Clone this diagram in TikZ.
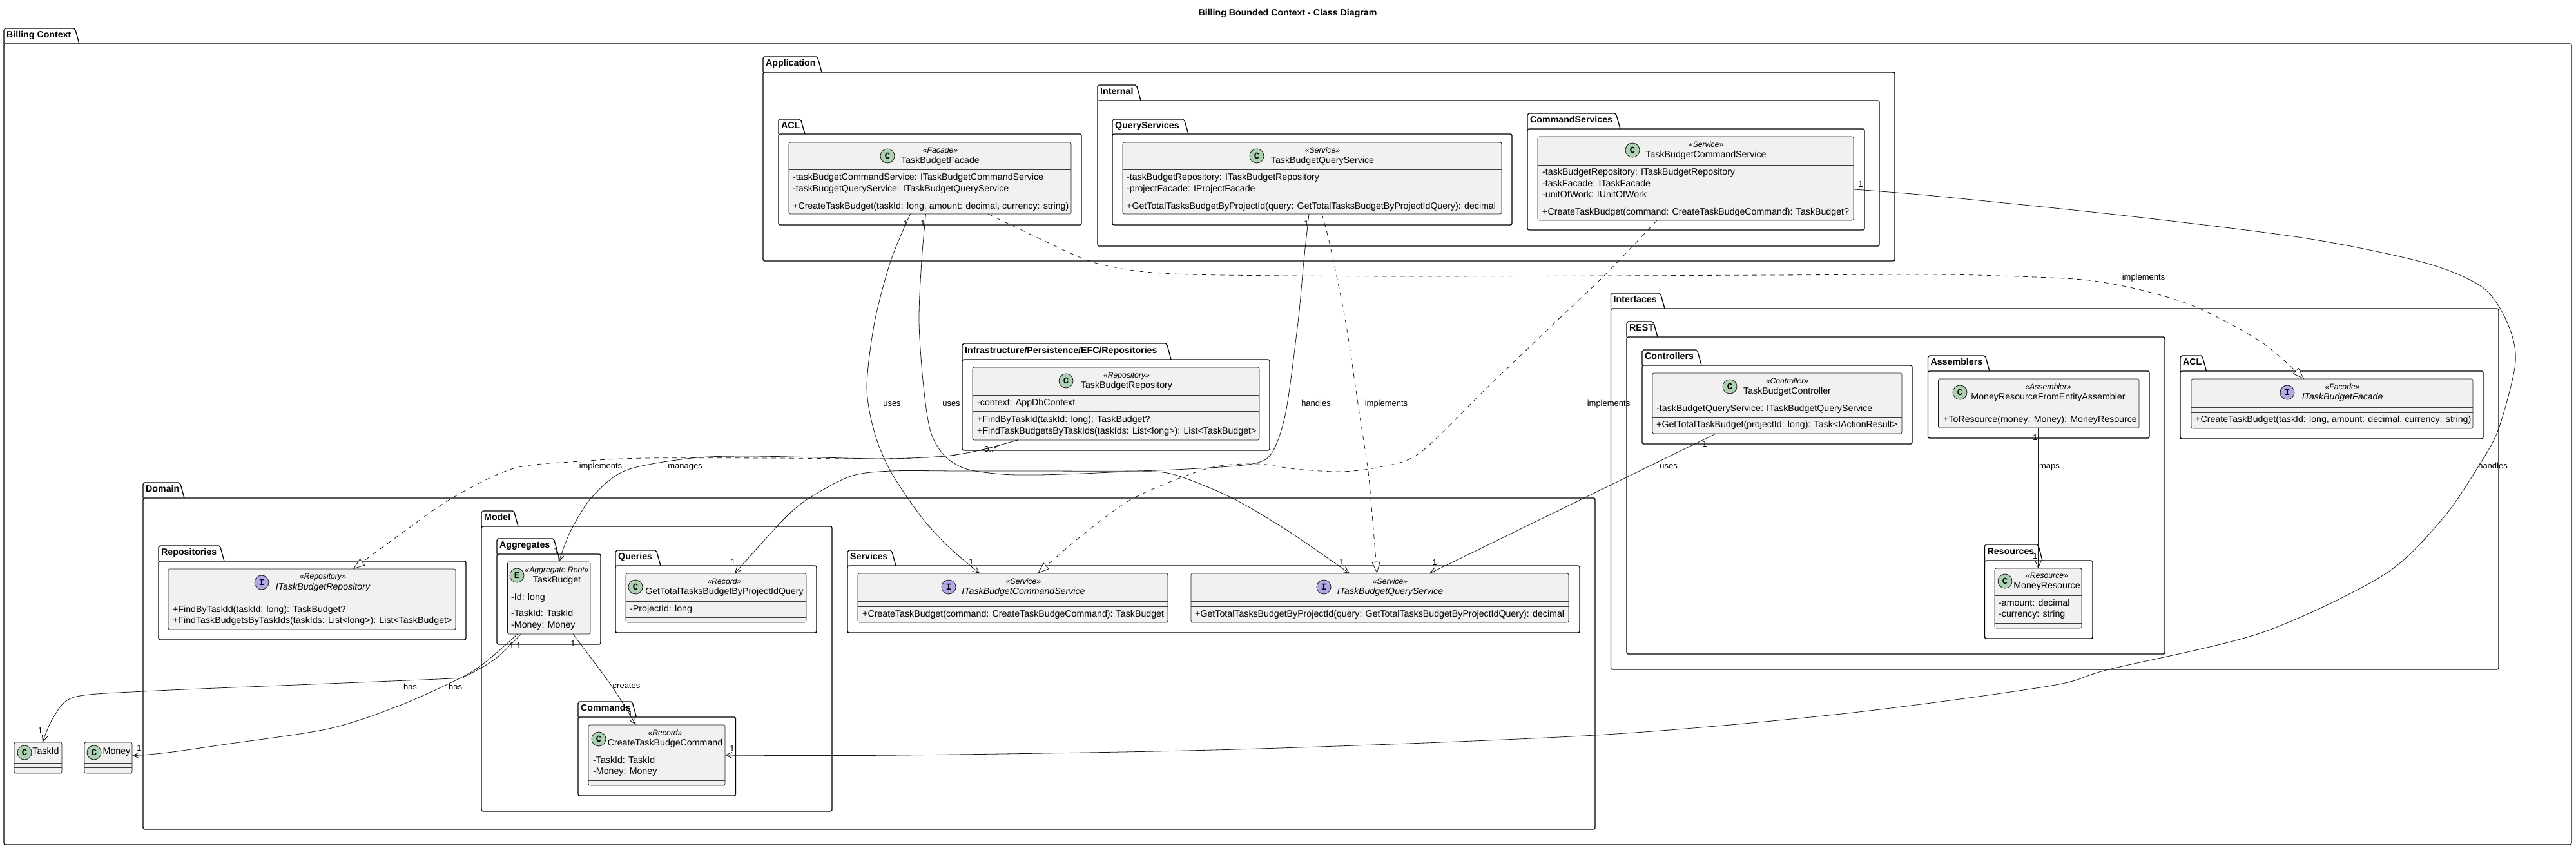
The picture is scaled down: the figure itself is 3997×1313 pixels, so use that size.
\documentclass[tikz,border=0pt]{standalone}
\usepackage{fontspec}
\setmainfont{Liberation Sans}
\setmonofont{Liberation Mono}
\usetikzlibrary{arrows.meta}
\definecolor{cline}{HTML}{181818}
\definecolor{cfill}{HTML}{F1F1F1}
\definecolor{cgreen}{HTML}{ADD1B2}
\definecolor{cviolet}{HTML}{B4A7E5}
\newcounter{tn}
\tikzset{
  pkgbox/.style={draw=black,line width=1.3pt,rounded corners=2.5pt,anchor=north west,inner sep=0pt,outer sep=0pt},
  pkgtab/.style={draw=black,line width=1.3pt,line join=round},
  pkgtitle/.style={font=\fontsize{14.2}{16}\selectfont\bfseries,anchor=mid west,inner sep=0pt},
  classbox/.style={draw=cline,line width=.7pt,fill=cfill,rounded corners=2.5pt,anchor=north west,inner sep=0pt,outer sep=0pt},
  seprule/.style={draw=cline!85,line width=.7pt},
  iconball/.style={circle,draw=cline,line width=.8pt,minimum size=22pt,inner sep=0pt,font=\fontsize{14}{14}\ttfamily\bfseries},
  nametext/.style={font=\fontsize{14.2}{16}\selectfont,anchor=mid,inner sep=0pt},
  inametext/.style={font=\fontsize{14.2}{16}\selectfont\itshape,anchor=mid,inner sep=0pt},
  stereotext/.style={font=\fontsize{12.2}{14}\selectfont\itshape,anchor=mid,inner sep=0pt},
  membertext/.style={font=\fontsize{14.2}{16}\selectfont,anchor=mid west,inner sep=0pt},
  edgetext/.style={font=\fontsize{13}{15}\selectfont,anchor=mid,inner sep=0pt},
  conn/.style={draw=cline,line width=.8pt,-{Straight Barb[length=10pt,width=9pt,line width=.9pt]}},
  impl/.style={draw=cline,line width=.8pt,dash pattern=on 7pt off 7pt,-{Triangle[length=18pt,width=13pt,fill=white,line width=.8pt]}},
  curve/.style={smooth,tension=.5}
}
% name, left, tab top, tab right, body top, right, bottom, title
\newcommand{\pkg}[8]{%
  \draw[pkgtab] (#2,#5) -- (#2,{#3+2.5}) -- ({#2+2.5},#3) -- ({#4-8.5},#3) -- ({#4-6},{#3+2.5}) -- (#4,#5);
  \node[pkgbox,minimum width=#6pt-#2pt,minimum height=#7pt-#5pt] (#1) at (#2,#5) {};
  \node[pkgtitle] (#1title) at ({#2+4},{(#3+#5)/2}) {#8};
}
% name, left, top, right, bottom, header rule, second rule
\newcommand{\cls}[7]{%
  \node[classbox,minimum width=#4pt-#2pt,minimum height=#5pt-#3pt] (#1) at (#2,#3) {};
  \draw[seprule] (#2,#6) -- (#4,#6);
  \draw[seprule] (#2,#7) -- (#4,#7);
}
\newcommand{\icon}[5]{\node[iconball,fill=#5] (#1) at (#2,#3) {#4};}
\newcommand{\tx}[4]{\stepcounter{tn}\node[#1] (t\arabic{tn}) at (#2,#3) {#4};}
\begin{document}
\begin{tikzpicture}[x=1pt,y=-1pt]
\useasboundingbox (0,0) rectangle (3997,1313);
\fill[white] (0,0) rectangle (3997,1313);

\node[font=\fontsize{14.2}{16}\selectfont\bfseries,inner sep=0pt] (title) at (1998,20.5) {Billing Bounded Context - Class Diagram};

% packages
\pkg{billing}{6}{44}{123}{68}{3990}{1311}{Billing Context}
\pkg{application}{1184}{88}{1275}{112}{2940}{405}{Application}
\pkg{internal}{1703}{132}{1770}{156}{2916}{382}{Internal}
\pkg{aclapp}{1208}{185}{1249}{208}{1678}{349}{ACL}
\pkg{querysvcs}{1726}{185}{1844}{208}{2346}{349}{QueryServices}
\pkg{cmdsvcs}{2370}{176}{2514}{200}{2893}{357}{CommandServices}
\pkg{infra}{1493}{533}{1817}{558}{1970}{699}{Infrastructure/Persistence/EFC/Repositories}
\pkg{domain}{222}{749}{286}{773}{2475}{1287}{Domain}
\pkg{repos}{246}{847}{348}{871}{723}{993}{Repositories}
\pkg{model}{747}{793}{804}{817}{1291}{1259}{Model}
\pkg{aggregates}{771}{836}{866}{860}{932}{1000}{Aggregates}
\pkg{queries}{955}{854}{1025}{878}{1267}{982}{Queries}
\pkg{commands}{897}{1089}{987.5}{1113}{1141.5}{1235}{Commands}
\pkg{services}{1315}{854}{1390}{878}{2451}{982}{Services}
\pkg{interfaces}{2499.5}{455}{2583}{479}{3877}{1039}{Interfaces}
\pkg{rest}{2524}{499}{2572}{523}{3359}{1015}{REST}
\pkg{controllers}{2548}{543}{2640}{567}{2967}{689}{Controllers}
\pkg{assemblers}{2991.5}{552}{3087}{576}{3335}{680}{Assemblers}
\pkg{resources}{3079.5}{845}{3169}{870}{3247}{991}{Resources}
\pkg{aclif}{3383}{552}{3423.5}{576}{3853}{681}{ACL}

% classes
\cls{facade}{1224}{221}{1662}{332}{263}{307}
\icon{facadei}{1377}{242}{C}{cgreen}
\tx{stereotext}{1459}{235}{«Facade»}
\tx{nametext}{1459}{251}{TaskBudgetFacade}
\tx{membertext}{1230}{277}{-taskBudgetCommandService: ITaskBudgetCommandService}
\tx{membertext}{1230}{295}{-taskBudgetQueryService: ITaskBudgetQueryService}
\tx{membertext}{1230}{322}{+CreateTaskBudget(taskId: long, amount: decimal, currency: string)}

\cls{qsvc}{1742}{221}{2330}{332}{263}{307}
\icon{qsvci}{1950}{242}{C}{cgreen}
\tx{stereotext}{2052}{235}{«Service»}
\tx{nametext}{2052}{251}{TaskBudgetQueryService}
\tx{membertext}{1748}{277}{-taskBudgetRepository: ITaskBudgetRepository}
\tx{membertext}{1748}{295}{-projectFacade: IProjectFacade}
\tx{membertext}{1748}{322}{+GetTotalTasksBudgetByProjectId(query: GetTotalTasksBudgetByProjectIdQuery): decimal}

\cls{csvc}{2386}{212}{2876}{342}{256}{316}
\icon{csvci}{2533}{233}{C}{cgreen}
\tx{stereotext}{2647}{226}{«Service»}
\tx{nametext}{2647}{242}{TaskBudgetCommandService}
\tx{membertext}{2393}{269}{-taskBudgetRepository: ITaskBudgetRepository}
\tx{membertext}{2393}{287}{-taskFacade: ITaskFacade}
\tx{membertext}{2393}{304}{-unitOfWork: IUnitOfWork}
\tx{membertext}{2393}{331}{+CreateTaskBudget(command: CreateTaskBudgeCommand): TaskBudget?}

\cls{repo}{1509}{570}{1954}{683}{613}{638}
\icon{repoi}{1654}{591}{C}{cgreen}
\tx{stereotext}{1748}{584}{«Repository»}
\tx{nametext}{1748}{600}{TaskBudgetRepository}
\tx{membertext}{1516}{627}{-context: AppDbContext}
\tx{membertext}{1516}{653}{+FindByTaskId(taskId: long): TaskBudget?}
\tx{membertext}{1516}{671}{+FindTaskBudgetsByTaskIds(taskIds: List<long>): List<TaskBudget>}

\cls{irepo}{261}{883}{707}{977}{926}{934}
\icon{irepoi}{406}{904}{I}{cviolet}
\tx{stereotext}{501}{896}{«Repository»}
\tx{inametext}{501}{913}{ITaskBudgetRepository}
\tx{membertext}{268}{948}{+FindByTaskId(taskId: long): TaskBudget?}
\tx{membertext}{268}{965}{+FindTaskBudgetsByTaskIds(taskIds: List<long>): List<TaskBudget>}

\cls{tb}{787.5}{872}{916}{984}{915}{940}
\icon{tbi}{802}{893}{E}{cgreen}
\tx{stereotext}{864}{886}{«Aggregate Root»}
\tx{nametext}{864}{902}{TaskBudget}
\tx{membertext}{793}{929}{-Id: long}
\tx{membertext}{793}{954}{-TaskId: TaskId}
\tx{membertext}{793}{972}{-Money: Money}

\cls{gq}{971}{890}{1251}{966}{933}{958}
\icon{gqi}{986}{911}{C}{cgreen}
\tx{stereotext}{1124}{904}{«Record»}
\tx{nametext}{1124}{920}{GetTotalTasksBudgetByProjectIdQuery}
\tx{membertext}{977}{947}{-ProjectId: long}

\cls{cc}{913}{1125}{1125}{1219}{1168}{1211}
\icon{cci}{929}{1147}{C}{cgreen}
\tx{stereotext}{1032}{1139}{«Record»}
\tx{nametext}{1032}{1155}{CreateTaskBudgeCommand}
\tx{membertext}{920}{1182}{-TaskId: TaskId}
\tx{membertext}{920}{1199}{-Money: Money}

\cls{icmd}{1331}{890}{1812}{966}{933}{941}
\icon{icmdi}{1472}{911}{I}{cviolet}
\tx{stereotext}{1588}{904}{«Service»}
\tx{inametext}{1588}{920}{ITaskBudgetCommandService}
\tx{membertext}{1338}{955}{+CreateTaskBudget(command: CreateTaskBudgeCommand): TaskBudget}

\cls{iqry}{1848}{890}{2434}{966}{933}{941}
\icon{iqryi}{2054}{911}{I}{cviolet}
\tx{stereotext}{2157}{904}{«Service»}
\tx{inametext}{2157}{920}{ITaskBudgetQueryService}
\tx{membertext}{1854}{955}{+GetTotalTasksBudgetByProjectId(query: GetTotalTasksBudgetByProjectIdQuery): decimal}

\cls{taskid}{22}{1152}{96}{1200}{1184}{1191}
\icon{taskidi}{38}{1168}{C}{cgreen}
\tx{nametext}{71}{1168}{TaskId}

\cls{money}{131}{1152}{205}{1200}{1184}{1191}
\icon{moneyi}{146}{1168}{C}{cgreen}
\tx{nametext}{181}{1168}{Money}

\cls{ctrl}{2564}{579}{2951}{673}{622}{647}
\icon{ctrli}{2684}{600}{C}{cgreen}
\tx{stereotext}{2773}{593}{«Controller»}
\tx{nametext}{2773}{609}{TaskBudgetController}
\tx{membertext}{2570}{636}{-taskBudgetQueryService: ITaskBudgetQueryService}
\tx{membertext}{2570}{661}{+GetTotalTaskBudget(projectId: long): Task<IActionResult>}

\cls{asm}{3007.5}{588}{3319}{664}{631}{639}
\icon{asmi}{3041}{609}{C}{cgreen}
\tx{stereotext}{3178}{602}{«Assembler»}
\tx{nametext}{3178}{618}{MoneyResourceFromEntityAssembler}
\tx{membertext}{3015}{653}{+ToResource(money: Money): MoneyResource}

\cls{mres}{3095}{882}{3230}{975}{924}{967}
\icon{mresi}{3111}{902}{C}{cgreen}
\tx{stereotext}{3176}{895}{«Resource»}
\tx{nametext}{3176}{911}{MoneyResource}
\tx{membertext}{3101}{938}{-amount: decimal}
\tx{membertext}{3101}{955}{-currency: string}

\cls{ifacade}{3400}{588}{3837}{665}{632}{640}
\icon{ifacadei}{3549}{609}{I}{cviolet}
\tx{stereotext}{3634.6}{602}{«Facade»}
\tx{inametext}{3634.6}{618}{ITaskBudgetFacade}
\tx{membertext}{3406}{653}{+CreateTaskBudget(taskId: long, amount: decimal, currency: string)}

% connectors
\draw[conn] plot[curve] coordinates {([xshift=188.5pt]facade.south west) (1382,405) (1357,500) (1345,600) (1356.5,670) (1381,730) (1427,799) (1470,847) ([xshift=189pt]icmd.north west)};
\draw[conn] plot[curve] coordinates {([xshift=212.5pt]facade.south west) (1430,405) (1426,500) (1433,600) (1444,670) (1466,708) (1500,728) (1555,736) (1610,737) (1680,735) (1759,732) (1820,736) (1912,773) (2000,825) ([xshift=246pt]iqry.north west)};
\draw[impl] plot[curve] coordinates {([xshift=309pt]facade.south west) (1610,369) (1690,405) (1760,420) (1845,426) (2000,428) (2200,429) (2500,428) (2750,427) (3000,426) (3130,429) (3241,435) (3330,452) (3413,479) (3509,531) ([xshift=175pt]ifacade.north west)};
\draw[conn] plot[curve] coordinates {([xshift=289pt]qsvc.south west) (2023,405) (2014,500) (1995,640) (1973.5,703) (1943,720) (1860,727) (1759,731) (1610,731) (1490,731) (1383,731) (1320,739) (1257,772) (1223,799) (1180,845) ([xshift=169pt]gq.north west)};
\draw[impl] plot[curve] coordinates {([xshift=309pt]qsvc.south west) (2063.5,380) (2088,500) (2109,640) (2122.7,730) (2130,810) ([xshift=288.5pt]iqry.north west)};
\draw[impl] plot[curve] coordinates {([xshift=185pt]csvc.south west) (2490,427) (2413.5,500) (2308,601) (2203,703) (2140,725) (2080.6,732) (2010,728) (1950.5,720) (1874,727) (1759,773) (1680,830) ([xshift=279pt]icmd.north west)};
\draw[conn] plot[curve] coordinates {([yshift=48pt]csvc.south east) (3000,304) (3300,335) (3579,370) (3763,408) (3852,446) (3890,500) (3903,562) (3877,665) (3846,723) (3790,805) (3699,892) (3509,982) (3272,1039) (3178,1065) (2857,1108) (2475,1141) (1920,1163) (1400,1172) ([yshift=47pt]cc.south east)};
\draw[conn] plot[curve] coordinates {([xshift=70pt]repo.south west) (1524,698) (1466,708) (1373,712) (1270,710) (1160,708) (1073,711) (971,730) (918,772) (885,825) ([xshift=79.5pt]tb.north west)};
\draw[impl] plot[curve] coordinates {([xshift=70pt]repo.south west) (1524,698) (1466,708) (1373,712) (1200,711) (1000,711) (900,716) (797,727) (701.5,773) (620,830) ([xshift=287pt]irepo.north west)};
\draw[conn] plot[curve] coordinates {([xshift=21pt]tb.south west) (768,1023) (720.7,1050) (701.5,1053) (460,1063) (223,1073) (115,1082) (83,1113) ([xshift=44pt]taskid.north west)};
\draw[conn] plot[curve] coordinates {([xshift=15.5pt]tb.south west) (760,1022) (720.7,1049) (620,1095) (510,1131) (351,1155) (260,1168) ([yshift=27pt]money.south east)};
\draw[conn] plot[curve] coordinates {([xshift=101.5pt]tb.south west) (950,1066) ([xshift=73.5pt]cc.north west)};
\draw[conn] ([xshift=98.5pt]ctrl.south west) -- ([xshift=370pt]iqry.north west);
\draw[conn] ([xshift=155pt]asm.south west) -- ([xshift=67.5pt]mres.north west);

% connector labels
\tx{edgetext}{1384}{628}{uses}
\tx{edgetext}{1476}{628}{uses}
\tx{edgetext}{2042}{628}{handles}
\tx{edgetext}{2151}{628}{implements}
\tx{edgetext}{2496}{628}{implements}
\tx{edgetext}{3326}{432}{implements}
\tx{edgetext}{932}{725}{implements}
\tx{edgetext}{1063}{725}{manages}
\tx{edgetext}{3868}{725}{handles}
\tx{edgetext}{2589}{725}{uses}
\tx{edgetext}{3180}{725}{maps}
\tx{edgetext}{972}{1066}{creates}
\tx{edgetext}{636.5}{1068}{has}
\tx{edgetext}{706.6}{1068}{has}
% multiplicities
\tx{edgetext}{1405}{349}{1}
\tx{edgetext}{1432}{349}{1}
\tx{edgetext}{2027}{349}{1}
\tx{edgetext}{2887}{288}{1}
\tx{edgetext}{1507}{874}{1}
\tx{edgetext}{2082}{874}{1}
\tx{edgetext}{2226}{875}{1}
\tx{edgetext}{1537}{699}{0..*}
\tx{edgetext}{863}{857}{1}
\tx{edgetext}{1137.5}{874}{1}
\tx{edgetext}{794}{1004}{1}
\tx{edgetext}{805}{1004}{1}
\tx{edgetext}{889}{1001}{1}
\tx{edgetext}{978}{1110}{1}
\tx{edgetext}{1136}{1164}{1}
\tx{edgetext}{62.5}{1135.5}{1}
\tx{edgetext}{216}{1163}{1}
\tx{edgetext}{2645}{691}{1}
\tx{edgetext}{3158}{681}{1}
\tx{edgetext}{3158}{865}{1}
\end{tikzpicture}
\end{document}
